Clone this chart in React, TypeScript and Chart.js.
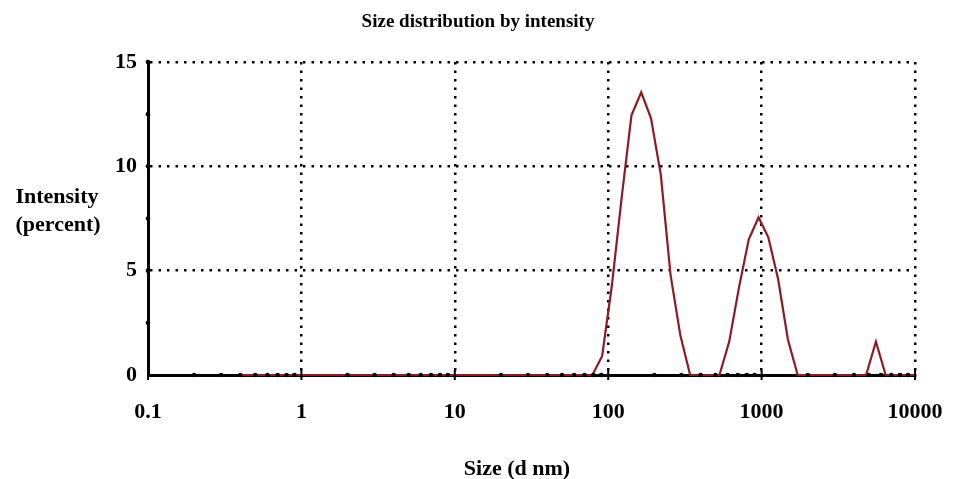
import React, { useEffect, useRef } from 'react';
import { Chart, registerables } from 'chart.js';

Chart.register(...registerables);

// Size bins (d nm)
const sizes = [
  0.4, 0.4632, 0.5365, 0.6213, 0.7195, 0.8332, 0.9649, 1.117, 1.294, 1.499,
  1.736, 2.01, 2.328, 2.696, 3.122, 3.615, 4.187, 4.849, 5.615, 6.503,
  7.531, 8.721, 10.1, 11.7, 13.54, 15.69, 18.17, 21.04, 24.36, 28.21,
  32.67, 37.84, 43.82, 50.75, 58.77, 68.06, 78.82, 91.28, 105.7, 122.4,
  141.8, 164.2, 190.1, 220.2, 255.0, 295.3, 342.0, 396.1, 458.7, 531.2,
  615.1, 712.4, 825.0, 955.4, 1106, 1281, 1484, 1718, 1990, 2305,
  2669, 3091, 3580, 4145, 4801, 5560, 6439, 7456, 8635, 10000,
];

// Intensity (percent)
const intensity = [
  0, 0, 0, 0, 0, 0, 0, 0, 0, 0,
  0, 0, 0, 0, 0, 0, 0, 0, 0, 0,
  0, 0, 0, 0, 0, 0, 0, 0, 0, 0,
  0, 0, 0, 0, 0, 0, 0, 0.9, 4.3, 8.5,
  12.45, 13.55, 12.3, 9.6, 4.8, 1.9, 0, 0, 0, 0,
  1.6, 4.2, 6.5, 7.55, 6.6, 4.6, 1.7, 0, 0, 0,
  0, 0, 0, 0, 0, 1.6, 0, 0, 0, 0,
];

const xTicks = [
  0.1, 0.2, 0.3, 0.4, 0.5, 0.6, 0.7, 0.8, 0.9,
  1, 2, 3, 4, 5, 6, 7, 8, 9,
  10, 20, 30, 40, 50, 60, 70, 80, 90,
  100, 200, 300, 400, 500, 600, 700, 800, 900,
  1000, 2000, 3000, 4000, 5000, 6000, 7000, 8000, 9000,
  10000,
];
const xMajor = [0.1, 1, 10, 100, 1000, 10000];
const xLabels = ['0.1', '1', '10', '100', '1000', '10000'];

const yTicks = [0, 2.5, 5, 7.5, 10, 12.5, 15];
const yMajor = [0, 5, 10, 15];

const titleText = 'Size distribution by intensity';
const yTitleLines = ['Intensity', '(percent)'];
const xTitleText = 'Size (d nm)';

const FONT = '"Liberation Serif", "Times New Roman", serif';
const LINE_COLOR = '#8c1c24';

const decorPlugin = {
  id: 'decor',
  afterDatasetsDraw(chart: any) {
    const { ctx } = chart;
    const x = chart.scales.x;
    const y = chart.scales.y;
    const y0 = y.getPixelForValue(0);
    const xl = x.getPixelForValue(0.1);
    ctx.save();
    ctx.fillStyle = '#000';
    ctx.strokeStyle = '#000';
    for (const v of xTicks) {
      const px = x.getPixelForValue(v);
      if (xMajor.includes(v)) {
        ctx.lineWidth = 2;
        ctx.beginPath();
        ctx.moveTo(px, y0 - 5);
        ctx.lineTo(px, y0 + 5);
        ctx.stroke();
      } else {
        ctx.beginPath();
        ctx.arc(px, y0, 2.3, 0, Math.PI * 2);
        ctx.fill();
      }
    }
    for (const v of yTicks) {
      if (v === 0) continue;
      const py = y.getPixelForValue(v);
      ctx.beginPath();
      ctx.arc(xl, py, 2.3, 0, Math.PI * 2);
      ctx.fill();
    }
    ctx.textAlign = 'center';
    ctx.textBaseline = 'middle';
    ctx.font = `bold 19px ${FONT}`;
    ctx.fillText(titleText, 478, 22);
    ctx.font = `bold 22px ${FONT}`;
    ctx.fillText(yTitleLines[0], 57, 197);
    ctx.fillText(yTitleLines[1], 58, 225);
    ctx.font = `bold 22px ${FONT}`;
    ctx.fillText(xTitleText, 517, 469);
    ctx.restore();
  },
};

const gridDash = [2.5, 6];

export default function App() {
  const ref = useRef<HTMLCanvasElement | null>(null);

  useEffect(() => {
    if (!ref.current) return;
    const chart = new Chart(ref.current, {
      type: 'line',
      data: {
        datasets: [
          {
            data: sizes.map((s, i) => ({ x: s, y: intensity[i] })),
            borderColor: LINE_COLOR,
            borderWidth: 2.2,
            pointRadius: 0,
            tension: 0,
            fill: false,
            clip: false as any,
          },
        ],
      },
      options: {
        responsive: false,
        animation: false,
        devicePixelRatio: 1,
        layout: { padding: { left: 0, right: 42, top: 62, bottom: 0 } },
        plugins: {
          legend: { display: false },
          tooltip: { enabled: false },
          title: { display: false },
        },
        scales: {
          x: {
            type: 'logarithmic',
            min: 0.1,
            max: 10000,
            afterBuildTicks: (scale: any) => {
              scale.ticks = xTicks.map((v) => ({ value: v, major: xMajor.includes(v) }));
            },
            afterFit: (scale: any) => {
              scale.height = 104;
              scale.paddingLeft = 0;
              scale.paddingRight = 0;
            },
            ticks: {
              autoSkip: false,
              maxRotation: 0,
              minRotation: 0,
              padding: 24,
              color: '#000',
              font: { family: FONT, size: 22, weight: 'bold' },
              callback: (value: any) => {
                const i = xMajor.indexOf(Number(value));
                return i >= 0 ? xLabels[i] : '';
              },
            },
            grid: {
              drawTicks: false,
              lineWidth: 2.5,
              color: (c: any) =>
                c.tick && xMajor.includes(c.tick.value) && c.tick.value !== 0.1
                  ? '#000'
                  : 'rgba(0,0,0,0)',
            },
            border: { display: true, color: '#000', width: 3, dash: gridDash },
          },
          y: {
            type: 'linear',
            min: 0,
            max: 15,
            afterBuildTicks: (scale: any) => {
              scale.ticks = yTicks.map((v) => ({ value: v }));
            },
            afterFit: (scale: any) => {
              scale.width = 148;
            },
            ticks: {
              autoSkip: false,
              padding: 11,
              color: '#000',
              font: { family: FONT, size: 22, weight: 'bold' },
              callback: (value: any) => (yMajor.includes(Number(value)) ? String(value) : ''),
            },
            grid: {
              drawTicks: false,
              lineWidth: 2.5,
              color: (c: any) =>
                c.tick && yMajor.includes(c.tick.value) && c.tick.value !== 0
                  ? '#000'
                  : 'rgba(0,0,0,0)',
            },
            border: { display: true, color: '#000', width: 3, dash: gridDash },
          },
        },
      } as any,
      plugins: [decorPlugin],
    });
    return () => chart.destroy();
  }, []);

  return (
    <div style={{ position: 'absolute', left: 0, top: 0, width: 957, height: 479, background: '#fff' }}>
      <canvas ref={ref} width={957} height={479} style={{ display: 'block' }} />
    </div>
  );
}
